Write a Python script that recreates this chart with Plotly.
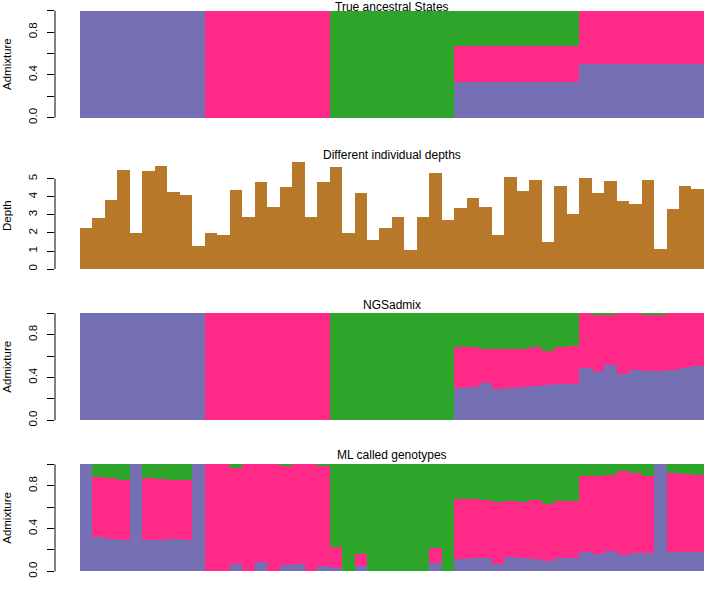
import plotly.graph_objects as go

# ---------------- data ----------------
individuals = list(range(1, 51))

# True ancestral states (purple, pink, green proportions)
true_purple = [1.0]*10 + [0.0]*10 + [0.0]*10 + [0.333]*10 + [0.5]*10
true_pink   = [0.0]*10 + [1.0]*10 + [0.0]*10 + [0.334]*10 + [0.5]*10
true_green  = [0.0]*10 + [0.0]*10 + [1.0]*10 + [0.333]*10 + [0.0]*10

# Individual depths
depth = [2.30, 2.81, 3.82, 5.50, 1.97, 5.44, 5.68, 4.28, 4.10, 1.29,
         1.99, 1.86, 4.39, 2.89, 4.82, 3.46, 4.54, 5.92, 2.89, 4.84,
         5.63, 2.02, 4.23, 1.62, 2.30, 2.90, 1.05, 2.89, 5.31, 2.70,
         3.38, 3.95, 3.46, 1.91, 5.09, 4.32, 4.93, 1.49, 4.58, 3.03,
         5.06, 4.23, 4.87, 3.75, 3.62, 4.91, 1.10, 3.35, 4.62, 4.45]

# NGSadmix estimates
ngs_purple = [1.0]*10 + [0.0]*10 + [0.0]*10 + \
    [0.30, 0.31, 0.35, 0.29, 0.30, 0.31, 0.32, 0.33, 0.34, 0.34,
     0.49, 0.46, 0.52, 0.43, 0.47, 0.46, 0.46, 0.47, 0.49, 0.51]
ngs_pink = [0.0]*10 + [1.0]*10 + [0.0]*10 + \
    [0.38, 0.37, 0.32, 0.38, 0.37, 0.36, 0.36, 0.32, 0.34, 0.35,
     0.51, 0.525, 0.465, 0.57, 0.53, 0.52, 0.52, 0.53, 0.51, 0.49]
ngs_green = [0.0]*10 + [0.0]*10 + [1.0]*10 + \
    [0.32, 0.32, 0.33, 0.33, 0.33, 0.33, 0.32, 0.35, 0.32, 0.31,
     0.0, 0.015, 0.015, 0.0, 0.0, 0.02, 0.02, 0.0, 0.0, 0.0]

# ML called genotypes estimates
ml_purple = [1.0, 0.32, 0.30, 0.295, 1.0, 0.29, 0.295, 0.30, 0.295, 1.0,
             0.0, 0.0, 0.07, 0.0, 0.087, 0.0, 0.055, 0.065, 0.0, 0.05,
             0.03, 0.0, 0.047, 0.0, 0.0, 0.0, 0.0, 0.0, 0.078, 0.0,
             0.118, 0.124, 0.124, 0.068, 0.137, 0.124, 0.118, 0.093, 0.124, 0.124,
             0.18, 0.161, 0.186, 0.155, 0.171, 0.171, 1.0, 0.18, 0.18, 0.18]
ml_pink = [0.0, 0.56, 0.57, 0.555, 0.0, 0.58, 0.565, 0.55, 0.56, 0.0,
           1.0, 1.0, 0.90, 1.0, 0.913, 1.0, 0.93, 0.935, 1.0, 0.94,
           0.20, 0.0, 0.113, 0.0, 0.0, 0.0, 0.0, 0.0, 0.136, 0.0,
           0.556, 0.55, 0.544, 0.584, 0.521, 0.528, 0.55, 0.534, 0.537, 0.537,
           0.714, 0.73, 0.714, 0.785, 0.745, 0.72, 0.0, 0.742, 0.727, 0.72]
ml_green = [0.0, 0.12, 0.13, 0.15, 0.0, 0.13, 0.14, 0.15, 0.145, 0.0,
            0.0, 0.0, 0.03, 0.0, 0.0, 0.0, 0.015, 0.0, 0.0, 0.01,
            0.77, 1.0, 0.84, 1.0, 1.0, 1.0, 1.0, 1.0, 0.786, 1.0,
            0.326, 0.326, 0.332, 0.348, 0.342, 0.348, 0.332, 0.373, 0.339, 0.339,
            0.106, 0.109, 0.10, 0.06, 0.084, 0.109, 0.0, 0.078, 0.093, 0.10]

titles = ["True ancestral States", "Different individual depths",
          "NGSadmix", "ML called genotypes"]
ylabels = ["Admixture", "Depth", "Admixture", "Admixture"]

# ---------------- style ----------------
PURPLE = "#7570B3"
PINK = "#FF2A88"
GREEN = "#2CA52A"
BROWN = "#B8782A"
FONT = "Liberation Sans, Arial, Helvetica, sans-serif"

W, H = 705, 593
LEFT = 55
BAR_PX = 12.48
x_left = individuals[0] - 0.5 - 2.0
x_right = x_left + (W - LEFT) / BAR_PX

# (pixel of y=0, pixels per unit, top value)
panels = [
    (118.0, 107.3, 1.0),
    (270.0, 18.13, max(depth)),
    (421.7, 107.4, 1.0),
    (573.3, 107.3, 1.0),
]
title_px = [7.5, 156.0, 306.5, 456.5]

fig = go.Figure()

def add_stack(idx, comps):
    for vals, col in comps:
        fig.add_trace(go.Bar(
            x=individuals, y=vals, width=1.0,
            marker=dict(color=col, line=dict(width=0)),
            xaxis="x" if idx == 1 else f"x{idx}",
            yaxis="y" if idx == 1 else f"y{idx}",
            showlegend=False, hoverinfo="skip"))

add_stack(1, [(true_purple, PURPLE), (true_pink, PINK), (true_green, GREEN)])
add_stack(2, [(depth, BROWN)])
add_stack(3, [(ngs_purple, PURPLE), (ngs_pink, PINK), (ngs_green, GREEN)])
add_stack(4, [(ml_purple, PURPLE), (ml_pink, PINK), (ml_green, GREEN)])

layout = dict(
    width=W, height=H,
    margin=dict(l=LEFT, r=0, t=0, b=0),
    paper_bgcolor="white", plot_bgcolor="white",
    barmode="stack", bargap=0,
    font=dict(family=FONT, size=11, color="black"),
    showlegend=False,
)
shapes = []
annotations = []
for i, (y0px, unit, ymax) in enumerate(panels, start=1):
    rng = [-0.04 * ymax, 1.04 * ymax]
    top_px = y0px - rng[1] * unit
    bot_px = y0px - rng[0] * unit
    dom = [1 - bot_px / H, 1 - top_px / H]
    sfx = "" if i == 1 else str(i)
    if ymax == 1.0:
        tv = [0, 0.2, 0.4, 0.6, 0.8, 1.0]
        tt = ["0.0", "", "0.4", "", "0.8", ""]
        top_tick = 1.0
    else:
        tv = [0, 1, 2, 3, 4, 5]
        tt = ["0", "1", "2", "3", "4", "5"]
        top_tick = 5
    layout["xaxis" + sfx] = dict(
        domain=[0, 1], range=[x_left, x_right], anchor="y" + sfx,
        showticklabels=False, ticks="", showgrid=False, zeroline=False,
        showline=False, fixedrange=True)
    layout["yaxis" + sfx] = dict(
        domain=dom, range=rng, anchor="x" + sfx,
        tickvals=tv, ticktext=tt, tickangle=-90,
        ticks="outside", ticklen=7, tickwidth=1, tickcolor="black",
        ticklabelstandoff=5,
        tickfont=dict(family=FONT, size=11.5, color="black"),
        showgrid=False, zeroline=False, showline=False,
        title=dict(text=ylabels[i - 1], standoff=13,
                   font=dict(family=FONT, size=11.5, color="black")),
        fixedrange=True)
    shapes.append(dict(type="line", xref="paper", yref="y" + sfx,
                       x0=0, x1=0, y0=0, y1=top_tick,
                       line=dict(color="black", width=1)))
    annotations.append(dict(
        text=titles[i - 1], xref="paper", yref="paper",
        x=(392 - LEFT) / (W - LEFT), y=1 - title_px[i - 1] / H,
        xanchor="center", yanchor="middle", showarrow=False, borderpad=0,
        font=dict(family=FONT, size=12, color="black")))

layout["shapes"] = shapes
layout["annotations"] = annotations
fig.update_layout(**layout)
fig.write_html("out.html",
               config={"displayModeBar": False, "staticPlot": True},
               post_script="document.body.style.margin='0';"
                           "document.body.style.overflow='hidden';")
